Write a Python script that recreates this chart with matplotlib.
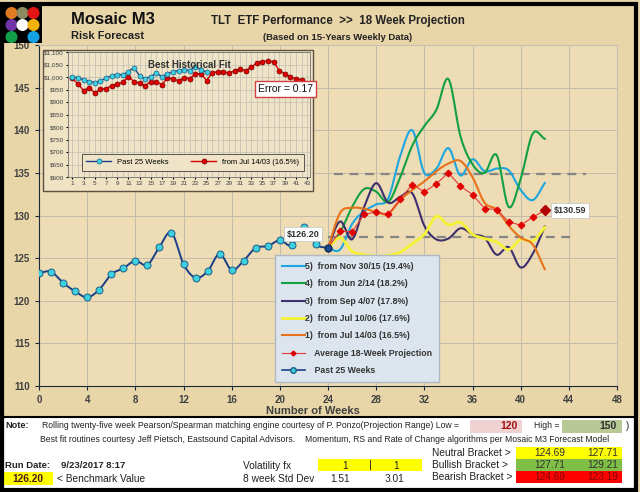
import numpy as np
import matplotlib
matplotlib.use('Agg')
import matplotlib.pyplot as plt
from matplotlib.patches import Rectangle, Circle
from matplotlib.lines import Line2D

plt.rcParams['font.family'] = ['Liberation Sans', 'DejaVu Sans']

# ---- data ----
past_weeks = list(range(0, 25))
past_values = [123.25, 123.4, 122.1, 121.1, 120.4, 121.3, 123.1, 123.8, 124.7, 124.2,
               126.3, 128.0, 124.3, 122.7, 123.45, 125.5, 123.6, 124.7, 126.2, 126.4,
               127.1, 126.5, 128.7, 126.6, 126.2]

proj_weeks = list(range(24, 43))
proj_5 = [126.2, 126.0, 129.0, 130.5, 131.3, 132.0, 137.0, 140.0, 135.0, 135.5,
          137.9, 134.7, 136.6, 135.2, 135.5, 135.3, 133.0, 131.8, 133.8]
proj_4 = [126.2, 128.0, 131.0, 133.1, 132.8, 131.6, 134.5, 138.2, 140.5, 142.4,
          146.0, 139.3, 136.0, 135.0, 137.1, 131.0, 134.3, 139.6, 139.0]
proj_3 = [126.2, 129.3, 127.2, 131.0, 133.8, 131.5, 132.2, 132.6, 128.8, 127.2,
          127.3, 128.5, 127.8, 127.4, 125.4, 126.3, 123.9, 125.5, 128.7]
proj_2 = [126.2, 127.4, 125.8, 125.4, 125.2, 125.3, 125.7, 126.7, 127.8, 129.9,
          128.9, 129.2, 127.8, 127.3, 126.9, 126.0, 127.2, 127.0, 128.6]
proj_1 = [126.2, 130.3, 130.9, 130.8, 130.4, 130.2, 131.8, 133.0, 134.0, 135.2,
          136.1, 136.4, 134.5, 131.5, 130.7, 128.8, 127.4, 126.6, 123.7]
proj_avg = [126.2, 128.16, 128.09, 130.12, 130.43, 130.12, 131.96, 133.63, 132.78, 133.72,
            135.0, 133.43, 132.46, 130.82, 130.70, 129.26, 128.86, 129.8, 130.59]

proj_labels = ['5)  from Nov 30/15 (19.4%)', '4)  from Jun 2/14 (18.2%)',
               '3)  from Sep 4/07 (17.8%)', '2)  from Jul 10/06 (17.6%)',
               '1)  from Jul 14/03 (16.5%)']
proj_colors = ['#1ea6e0', '#12a040', '#3e2f6e', '#f4f232', '#e8721a']

upper_line = 134.9
lower_line = 127.45

# inset "Best Historical Fit"
fit_weeks_past = list(range(1, 26))
fit_past = [999, 998, 989, 982, 978, 985, 995, 1005, 1010, 1009, 1022, 1038, 1005,
            994, 1002, 1015, 1002, 1013, 1022, 1025, 1029, 1026, 1042, 1029, 1020]
fit_weeks_hist = list(range(1, 43))
fit_hist = [995, 971, 946, 958, 935, 952, 954, 965, 971, 979, 1002, 982, 975, 965,
            982, 982, 969, 997, 993, 985, 998, 994, 1013, 1013, 986, 1017, 1022,
            1022, 1015, 1025, 1032, 1025, 1040, 1056, 1062, 1065, 1060, 1026, 1013,
            1000, 993, 989]
fit_error = 0.17

W, H = 640, 492


def fx(px):
    return px / W


def fy(py):
    return 1 - py / H


def smooth(xs, ys, steps=12):
    # Catmull-Rom curve through the points, like a "smoothed line" chart
    xs = np.asarray(xs, float)
    ys = np.asarray(ys, float)
    px = np.concatenate([[2 * xs[0] - xs[1]], xs, [2 * xs[-1] - xs[-2]]])
    py = np.concatenate([[2 * ys[0] - ys[1]], ys, [2 * ys[-1] - ys[-2]]])
    t = np.linspace(0, 1, steps, endpoint=False)
    ox, oy = [], []
    for i in range(1, len(xs)):
        for arr, out in ((px, ox), (py, oy)):
            p0, p1, p2, p3 = arr[i - 1], arr[i], arr[i + 1], arr[i + 2]
            out.extend(0.5 * (2 * p1 + (-p0 + p2) * t + (2 * p0 - 5 * p1 + 4 * p2 - p3) * t ** 2
                              + (-p0 + 3 * p1 - 3 * p2 + p3) * t ** 3))
    ox.append(xs[-1])
    oy.append(ys[-1])
    return np.array(ox), np.array(oy)


fig = plt.figure(figsize=(6.4, 4.92), dpi=100)
fig.patch.set_facecolor('#e8d5a8')

# ---- main chart ----
ax = fig.add_axes([fx(39), fy(386), 578 / W, 341 / H])
ax.set_zorder(0)
ax.set_facecolor('#eddcb4')
ax.set_xlim(0, 48)
ax.set_ylim(110, 150)
ax.set_xticks(range(0, 49, 4))
ax.set_yticks(range(110, 151, 5))
ax.grid(True, color='#c2bbad', lw=0.7)
ax.set_axisbelow(True)
for s in ['top', 'right']:
    ax.spines[s].set_color('#c8c0b0')
for s in ['left', 'bottom']:
    ax.spines[s].set_color('#1a2a3a')
ax.tick_params(labelsize=7, labelcolor='#404040', length=3, color='#1a2a3a')
for lab in ax.get_xticklabels() + ax.get_yticklabels():
    lab.set_fontweight('bold')
ax.set_xlabel('Number of Weeks', fontsize=8, fontweight='bold', color='#404040', labelpad=4)
ax.xaxis.set_label_coords(0.474, -0.058)

dash_kw = dict(color='#858585', lw=1.6, dashes=(4, 3), zorder=2)
ax.plot([24.5, 45.4], [upper_line, upper_line], **dash_kw)
ax.plot([24, 44.6], [lower_line, lower_line], **dash_kw)

series = [proj_5, proj_4, proj_3, proj_2, proj_1]
handles = []
for vals, col, lab in zip(series, proj_colors, proj_labels):
    sx, sy = smooth(proj_weeks, vals)
    lw = 2.0 if col == '#f4f232' else 1.5
    ax.plot(sx, sy, color=col, lw=lw, zorder=3)
    handles.append(Line2D([], [], color=col, lw=lw, label=lab))

ax.plot(proj_weeks, proj_avg, color='#e83a3a', lw=0.8, marker='D', ms=3.3,
        mfc='#e00000', mec='#e00000', zorder=4)
ax.plot(proj_weeks[-1], proj_avg[-1], marker='D', ms=5.5, color='#b00000', zorder=5)
handles.append(Line2D([], [], color='#e83a3a', lw=0.8, marker='D', ms=2.5,
                      mfc='#e00000', mec='#e00000', label='    Average 18-Week Projection'))

sx, sy = smooth(past_weeks, past_values, 8)
ax.plot(sx, sy, color='#1a3f86', lw=1.4, zorder=5)
ax.plot(past_weeks[:-1], past_values[:-1], ls='none', marker='o', ms=5,
        mfc='#3fd0e0', mec='#1a5f8a', mew=0.7, zorder=6)
ax.plot(past_weeks[-1], past_values[-1], marker='o', ms=5, mfc='#1a4a8a',
        mec='#10305a', zorder=6)
handles.append(Line2D([], [], color='#1a3f86', lw=1.2, marker='o', ms=4,
                      mfc='#3fd0e0', mec='#1a5f8a', label='    Past 25 Weeks'))

box_kw = dict(boxstyle='square,pad=0.3', fc='white', ec='#c8c8c8', lw=0.6)
ax.text(21.9, 127.8, f'${past_values[-1]:.2f}', ha='center', va='center', fontsize=6.5,
        fontweight='bold', color='#333333', bbox=box_kw, zorder=7)
ax.text(44.1, 130.6, f'${proj_avg[-1]:.2f}', ha='center', va='center', fontsize=6.5,
        fontweight='bold', color='#333333', bbox=box_kw, zorder=7)

leg = ax.legend(handles=handles, loc='lower left', bbox_to_anchor=(0.408, 0.012),
                fontsize=6.3, labelspacing=0.95, handlelength=2.6, handletextpad=0.1,
                borderpad=0.8, fancybox=False, framealpha=1, borderaxespad=0)
leg.get_frame().set_facecolor('#dce5ee')
leg.get_frame().set_edgecolor('#b0b8c0')
for t in leg.get_texts():
    t.set_color('#333333')
    t.set_fontweight('bold')
leg.set_zorder(8)

# ---- inset frame + chart ----
fig.patches.append(Rectangle((fx(43), fy(191)), 270 / W, 141 / H, transform=fig.transFigure,
                             fc='#efe3c4', ec='#605040', lw=1, zorder=2))
axi = fig.add_axes([fx(68), fy(177), 242 / W, 125 / H])
axi.set_zorder(3)
axi.set_facecolor('#efe4c8')
axi.set_xlim(0.2, 43.5)
axi.set_ylim(600, 1100)
axi.set_xticks(range(1, 44, 2))
axi.set_xticks(range(1, 44), minor=True)
axi.set_yticks(range(600, 1101, 50))
axi.set_yticklabels([f'${v:,}' for v in range(600, 1101, 50)])
axi.grid(True, which='both', color='#b8b4ac', lw=0.4)
axi.set_axisbelow(True)
axi.tick_params(labelsize=4.6, labelcolor='#404040', length=1.5, pad=1.5)
axi.tick_params(which='minor', length=0)
for s in axi.spines.values():
    s.set_color('#707070')
    s.set_linewidth(0.6)
axi.plot(fit_weeks_hist, fit_hist, color='#e00000', lw=1.0, marker='o', ms=3.6,
         mfc='#e00000', mec='#700000', mew=0.5, label='from Jul 14/03 (16.5%)')
axi.plot(fit_weeks_past, fit_past, color='#1a3f86', lw=1.0, marker='o', ms=3.6,
         mfc='#3fd0e0', mec='#1a5f8a', mew=0.5, label='Past 25 Weeks')
axi.text(0.5, 0.9, 'Best Historical Fit', transform=axi.transAxes, ha='center',
         va='center', fontsize=7, fontweight='bold', color='#333333')
axi.text(0.9, 0.705, f'Error = {fit_error:.2f}', transform=axi.transAxes, ha='center',
         va='center', fontsize=7.5, color='#111111', clip_on=False, zorder=6,
         bbox=dict(boxstyle='square,pad=0.3', fc='white', ec='#d04040', lw=1))
h, l = axi.get_legend_handles_labels()
lg = axi.legend(h[::-1], l[::-1], ncol=2, loc='lower center', bbox_to_anchor=(0.515, 0.02),
                fontsize=5.5, fancybox=False, framealpha=1, handlelength=3.2,
                columnspacing=3, borderpad=0.6)
lg.get_frame().set_facecolor('#efe4c8')
lg.get_frame().set_edgecolor('#404040')
lg.get_frame().set_linewidth(0.6)

# ---- logo ----
axl = fig.add_axes([0, fy(43), 42 / W, 39 / H])
axl.set_zorder(4)
axl.set_facecolor('black')
axl.set_xlim(0, 42)
axl.set_ylim(43, 4)
axl.set_xticks([])
axl.set_yticks([])
for s in axl.spines.values():
    s.set_visible(False)
dot_colors = [['#e27a22', '#8c8a62', '#e31414'],
              ['#7134a6', '#ffffff', '#f2b20a'],
              ['#10a04a', None, '#14a2e4']]
for r, row in enumerate(dot_colors):
    for c, col in enumerate(row):
        if col:
            axl.add_patch(Circle((11.5 + 11 * c, 13 + 12 * r), 5.3, color=col))

# ---- header text ----
fig.text(fx(71), fy(20), 'Mosaic M3', fontsize=12, fontweight='bold', color='#111111', va='center')
fig.text(fx(71), fy(36), 'Risk Forecast', fontsize=8, fontweight='bold', color='#222222', va='center')
fig.text(fx(338), fy(21), 'TLT  ETF Performance  >>  18 Week Projection', fontsize=8.3,
         fontweight='bold', color='#222222', ha='center', va='center')
fig.text(fx(338), fy(37), '(Based on 15-Years Weekly Data)', fontsize=6.8,
         fontweight='bold', color='#222222', ha='center', va='center')

# ---- bottom panel ----
def cell(x0, y0, x1, y1, col):
    fig.patches.append(Rectangle((fx(x0), fy(y1)), (x1 - x0) / W, (y1 - y0) / H,
                                 transform=fig.transFigure, fc=col, ec='none', zorder=3))


def txt(px, py, s, size=7.3, **kw):
    kw.setdefault('color', '#222222')
    fig.text(fx(px), fy(py), s, fontsize=size, va='center', zorder=5, **kw)


fig.patches.append(Rectangle((fx(3), fy(490)), 632 / W, 73 / H, transform=fig.transFigure,
                             fc='white', ec='black', lw=1.5, zorder=2))
cell(470, 420, 522, 433, '#f0d2d2')
cell(562, 420, 622, 433, '#b9c996')
cell(516, 447, 622, 459, '#ffff00')
cell(516, 459, 622, 471, '#7fbf45')
cell(516, 471, 622, 483, '#ff0000')
cell(318, 459, 422, 471, '#ffff00')
cell(3, 472, 53, 485, '#ffff00')

txt(5, 425, 'Note:', 6.6, fontweight='bold')
txt(42, 425, 'Rolling twenty-five week Pearson/Spearman matching engine courtesy of P. Ponzo(Projection Range) Low =', 6.25)
txt(518, 426, '120', 7.5, fontweight='bold', color='#a01010', ha='right')
txt(534, 426, 'High =', 6.25)
txt(617, 426, '150', 7.5, fontweight='bold', color='#303030', ha='right')
txt(626, 426, ')', 7)
txt(40, 439, 'Best fit routines courtesy Jeff Pietsch, Eastsound Capital Advisors.', 6.25)
txt(305, 439, 'Momentum, RS and Rate of Change algorithms per Mosaic M3 Forecast Model', 6.25)

txt(432, 453, 'Neutral Bracket >')
txt(432, 465, 'Bullish Bracket >')
txt(432, 477, 'Bearish Bracket >')
bracket_vals = [('124.69', '127.71', '#303030'), ('127.71', '129.21', '#303030'),
                ('124.69', '123.19', '#800000')]
for i, (a, b, col) in enumerate(bracket_vals):
    txt(550, 453 + 12 * i, a, ha='center', color=col)
    txt(603, 453 + 12 * i, b, ha='center', color=col)

txt(5, 466, 'Run Date:', 6.8, fontweight='bold')
txt(61, 466, '9/23/2017 8:17', 6.8, fontweight='bold')
txt(243, 466, 'Volatility fx')
txt(345, 466, '1', ha='center')
txt(370, 465, '|', 8, ha='center')
txt(396, 466, '1', ha='center')
txt(28, 479, f'{past_values[-1]:.2f}', 7.3, fontweight='bold', color='#501818', ha='center')
txt(57, 479, '< Benchmark Value')
txt(243, 479, '8 week Std Dev')
txt(340, 479, '1.51', ha='center')
txt(394, 479, '3.01', ha='center')

# outer frame
fig.patches.append(Rectangle((fx(2), fy(490)), 634 / W, 486 / H, transform=fig.transFigure,
                             fill=False, ec='black', lw=3, zorder=6))

plt.savefig('out.png', dpi=100, facecolor=fig.get_facecolor())
